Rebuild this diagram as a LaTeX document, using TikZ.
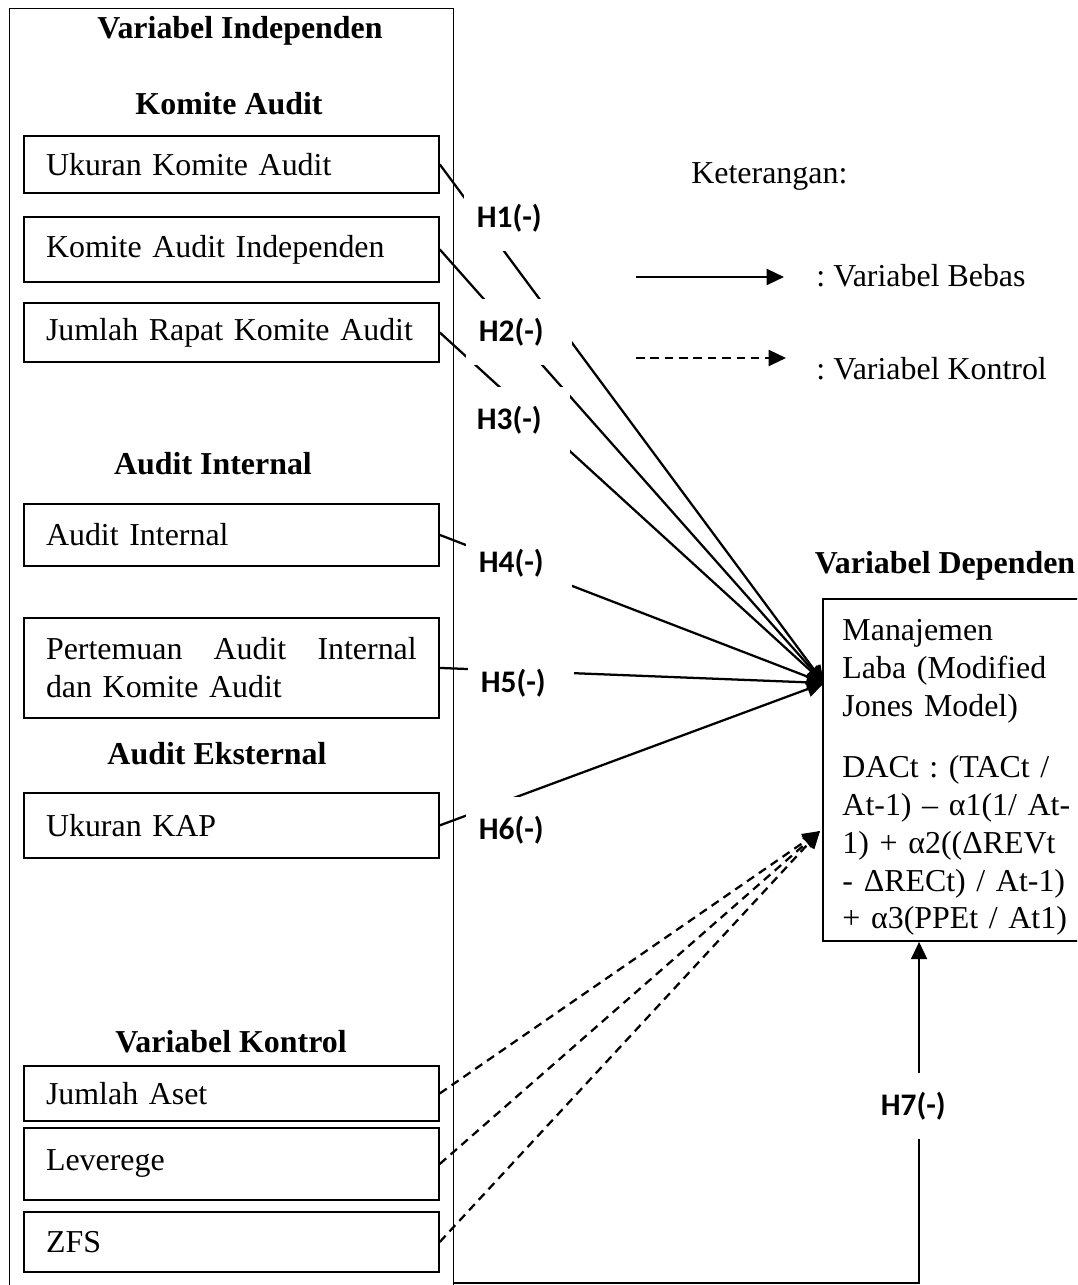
\documentclass[tikz,border=0pt]{standalone}
\usepackage{fontspec}
\setmainfont{Liberation Serif}
\newfontfamily\carlito{Carlito}
\usetikzlibrary{arrows.meta}

\tikzset{
  varbox/.style={draw, line width=0.7pt, anchor=north west, minimum width=156pt,
    text width=139.4pt, inner xsep=8.3pt, align=left},
  judul/.style={font=\fontsize{12}{14.2}\selectfont\bfseries},
  hlabel/.style={fill=white, anchor=west, text width=30pt, inner xsep=5pt,
    minimum height=24.8pt, align=left, font=\carlito\bfseries\fontsize{11.8}{13}\selectfont},
  panah/.style={line width=0.85pt, -{Triangle[length=6.5pt,width=6pt]}},
  kontrol/.style={panah, dash pattern=on 3.2pt off 2.2pt},
}

\begin{document}
\begin{tikzpicture}[x=0.376pt, y=-0.376pt, font=\fontsize{12}{14.2}\selectfont\frenchspacing]
    \useasboundingbox (0,0) rectangle (1077,1285);
    \clip (0,0) rectangle (1077,1285);

    % kotak variabel independen
    \node[draw, line width=0.5pt, anchor=north west, minimum width=167pt, minimum height=540pt] (indep) at (9,8) {};
    \node[judul] (jdl) at (240,31) {Variabel Independen};

    % komite audit
    \node[judul] (ka) at (229,104) {Komite Audit};
    \node[varbox, minimum height=21.4pt] (uk) at (23,135) {Ukuran Komite Audit};
    \node[varbox, minimum height=24.4pt] (kai) at (23,216) {Komite Audit Independen};
    \node[varbox, minimum height=22.2pt] (jr) at (23,302) {Jumlah Rapat Komite Audit};

    % audit internal
    \node[judul] (ain) at (213,464) {Audit Internal};
    \node[varbox, minimum height=23.3pt] (ai) at (23,503) {Audit Internal};
    \node[varbox, minimum height=37.6pt] (pt) at (23,617) {Pertemuan\hfill Audit\hfill Internal\\dan Komite Audit};

    % audit eksternal
    \node[judul] (aek) at (217,754) {Audit Eksternal};
    \node[varbox, minimum height=24.4pt] (kap) at (23,792) {Ukuran KAP};

    % variabel kontrol
    \node[judul] (vk) at (231,1042) {Variabel Kontrol};
    \node[varbox, minimum height=20.7pt] (ja) at (23,1065) {Jumlah Aset};
    \node[varbox, minimum height=27.1pt] (lev) at (23,1127) {Leverege};
    \node[varbox, minimum height=22.6pt] (zfs) at (23,1211) {ZFS};

    % variabel dependen
    \node[judul] (vd) at (945,566) {Variabel Dependen};
    \node[draw, line width=0.7pt, anchor=north west, minimum width=110pt, minimum height=128.6pt] (dep) at (822,598) {};
    \node[anchor=north west, text width=95pt, inner xsep=7.5pt, align=left] (deptxt) at ([yshift=-4.5pt]dep.north west)
      {Manajemen\\ Laba (Modified\\ Jones Model)\\[9pt]
       DACt : (TACt /\\ At-1) – α1(1/ At-\\ 1) + α2((ΔREVt\\ - ΔRECt) / At-1)\\ + α3(PPEt / At1)};

    % keterangan
    \node[anchor=west] (ket) at (682,177) {Keterangan:};
    \coordinate (lb1) at (636,277);
    \coordinate (lb2) at (784,277);
    \draw[panah] (lb1) -- (lb2);
    \node[anchor=west] (bebas) at (807,276) {: Variabel Bebas};
    \coordinate (lk1) at (636,358);
    \coordinate (lk2) at (786,358);
    \draw[kontrol] (lk1) -- (lk2);
    \node[anchor=west] (kontr) at (807,369) {: Variabel Kontrol};

    % panah ke manajemen laba
    \coordinate (tA) at (824,683);
    \coordinate (tB) at (820,831);
    \foreach \n in {uk,kai,jr,ai,pt,kap}
        \draw[panah] (\n.east) -- (tA);
    \foreach \n in {ja,lev,zfs}
        \draw[kontrol] (\n.east) -- (tB);
    \coordinate (h7) at (453,1283);
    \draw[panah] (h7) -| ([xshift=36.5pt]dep.south west);

    % hipotesis
    \node[hlabel] (h1) at (463,218) {H1(-)};
    \node[hlabel] (h2) at (465,332) {H2(-)};
    \node[hlabel] (h3) at (463,420) {H3(-)};
    \node[hlabel] (h4) at (465,563) {H4(-)};
    \node[hlabel] (h5) at (467,683) {H5(-)};
    \node[hlabel] (h6) at (465,830) {H6(-)};
    \node[hlabel] (h7l) at (867,1106) {H7(-)};
\end{tikzpicture}
\end{document}
